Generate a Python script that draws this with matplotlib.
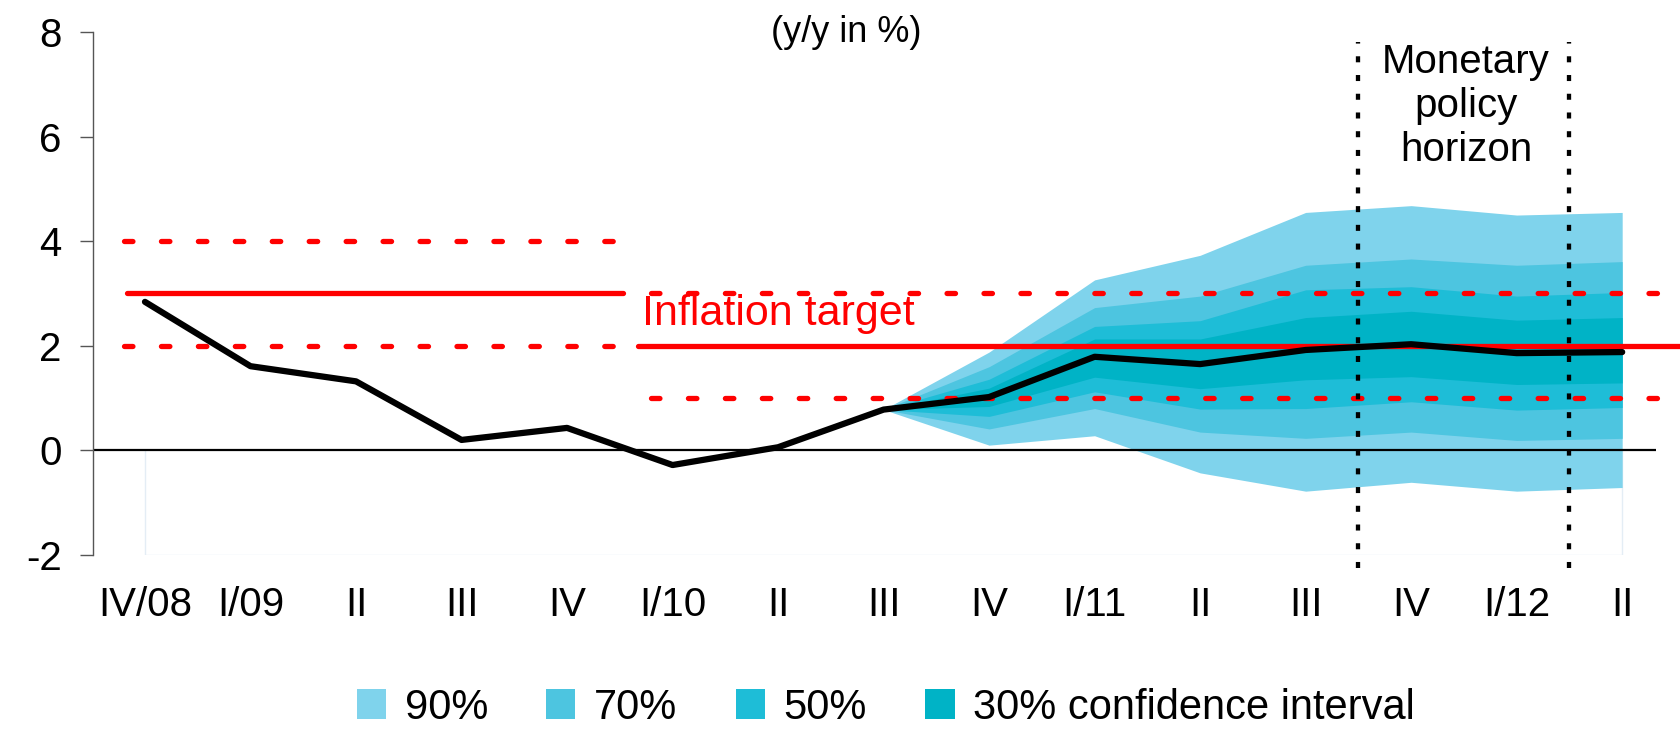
# -*- coding: utf-8 -*-
import matplotlib
matplotlib.use("Agg")
import matplotlib.pyplot as plt

plt.rcParams['font.family'] = ['Liberation Sans', 'DejaVu Sans']
plt.rcParams['axes.unicode_minus'] = False

# quarters IV/08 .. II/12
quarters = ["IV/08", "I/09", "II", "III", "IV", "I/10", "II", "III", "IV",
            "I/11", "II", "III", "IV", "I/12", "II"]
inflation = [2.84, 1.61, 1.32, 0.20, 0.43, -0.28, 0.06, 0.78, 1.02,
             1.79, 1.65, 1.92, 2.03, 1.86, 1.88]

# fan chart, III/10 .. II/12
fan_start = 7
upper90 = [0.78, 1.88, 3.26, 3.73, 4.55, 4.68, 4.50, 4.55]
upper70 = [0.78, 1.60, 2.73, 2.95, 3.54, 3.66, 3.54, 3.61]
upper50 = [0.78, 1.36, 2.37, 2.48, 3.07, 3.13, 2.95, 3.02]
upper30 = [0.78, 1.19, 2.13, 2.13, 2.54, 2.66, 2.49, 2.54]
lower30 = [0.78, 0.84, 1.40, 1.18, 1.35, 1.41, 1.26, 1.29]
lower50 = [0.78, 0.65, 1.12, 0.79, 0.80, 0.93, 0.77, 0.82]
lower70 = [0.78, 0.41, 0.80, 0.35, 0.23, 0.35, 0.19, 0.23]
lower90 = [0.78, 0.10, 0.28, -0.43, -0.78, -0.61, -0.78, -0.71]
fan_labels = ["90%", "70%", "50%", "30% confidence interval"]
fan_colors = ["#7fd3ec", "#4dc5e0", "#1ebdd7", "#00b3c6"]

old_target = 3.0
new_target = 2.0
tolerance = 1.0
horizon = [11.5, 13.5]

x = list(range(len(quarters)))
fx = list(range(fan_start, fan_start + len(upper90)))

fig = plt.figure(figsize=(16.81, 7.31), dpi=100)
ax = fig.add_axes([0.0553, 0.2408, 0.9298, 0.7154])

# plot area outline (faint)
ax.plot([0, 0, 14, 14], [0, -2, -2, 0], color="#e4edf5", lw=1, zorder=0)

handles = []
for lo, up, c in zip([lower90, lower70, lower50, lower30],
                     [upper90, upper70, upper50, upper30], fan_colors):
    h = ax.fill_between(fx, lo, up, color=c, lw=0, zorder=1)
    handles.append(h)

ax.axhline(0, color="black", lw=1.6, zorder=2)

# inflation target lines
red = "#ff0000"
ax.plot([-0.17, 4.53], [old_target, old_target], color=red, lw=3.8,
        solid_capstyle="round", zorder=3)
for lvl in [old_target - tolerance, old_target + tolerance]:
    ax.plot([-0.2, 4.55], [lvl, lvl], color=red, lw=3.8, dashes=(1.6, 5.4),
            dash_capstyle="round", zorder=3)
ax.plot([4.67, 14.6], [new_target, new_target], color=red, lw=3.8,
        solid_capstyle="round", zorder=3, clip_on=False)
for lvl in [new_target - tolerance, new_target + tolerance]:
    ax.plot([4.8, 14.6], [lvl, lvl], color=red, lw=3.8, dashes=(1.6, 5.4),
            dash_capstyle="round", zorder=3, clip_on=False)

# monetary policy horizon
for hx in horizon:
    ax.plot([hx, hx], [-2.25, 7.8], color="black", lw=3.1, dashes=(1.4, 2.95),
            zorder=4, clip_on=False)

ax.plot(x, inflation, color="black", lw=4.5, solid_capstyle="round",
        solid_joinstyle="round", zorder=5)

ax.text(6.0, 2.6, "Inflation target", color=red, fontsize=31,
        ha="center", va="center")
ax.text(12.52, 6.58, "Monetary\npolicy\nhorizon", fontsize=29,
        ha="center", va="center", linespacing=1.2)
ax.text(6.65, 8.0, "(y/y in %)", fontsize=26, ha="center", va="center")

ax.set_xlim(-0.493, 14.32)
ax.set_ylim(-2, 8)
ax.set_yticks([-2, 0, 2, 4, 6, 8])
ax.set_xticks(x)
ax.set_xticklabels(quarters)
ax.tick_params(axis="x", length=0, labelsize=29, pad=22)
ax.tick_params(axis="y", direction="out", length=9.5, width=1,
               color="#555555", labelsize=29, pad=13)
for s in ["top", "right", "bottom"]:
    ax.spines[s].set_visible(False)
ax.spines["left"].set_color("#555555")
ax.spines["left"].set_linewidth(1)

fig.legend(handles, fan_labels, loc="center", bbox_to_anchor=(0.527, 0.032),
           ncol=4, frameon=False, fontsize=30, handlelength=0.7,
           handleheight=0.7, handletextpad=0.45, columnspacing=1.4,
           borderpad=0, borderaxespad=0)

fig.savefig("out.png", dpi=100)
